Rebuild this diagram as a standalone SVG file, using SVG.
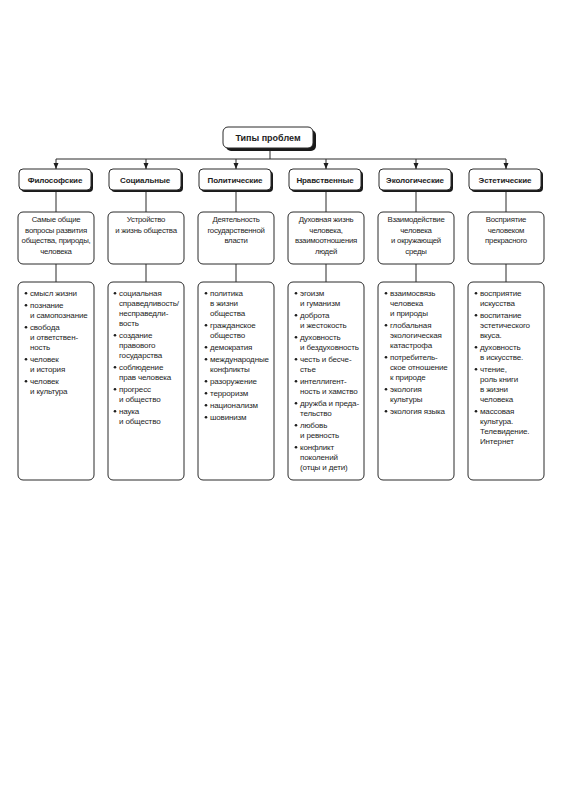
<svg xmlns="http://www.w3.org/2000/svg" width="564" height="800" viewBox="0 0 564 800">
<defs>
<style>
.bg{fill:#fff}
.box{fill:#fff;stroke:#2a2a2a;stroke-width:1}
.shadow{fill:#1a1a1a}
.ln{stroke:#2a2a2a;stroke-width:1;fill:none}
.t{font-family:"Liberation Sans","Arial",sans-serif;font-size:8px;fill:#1e1e1e;letter-spacing:-0.15px}
.d{font-size:7.8px;letter-spacing:-0.25px}
.c{text-anchor:middle}
.h{font-weight:bold;font-size:8px;letter-spacing:-0.1px}
.title{font-weight:bold;font-size:9px;letter-spacing:0}
.b{fill:#1e1e1e}
</style>
<marker id="arr" viewBox="0 0 6 6" refX="6" refY="3" markerWidth="6" markerHeight="6" orient="auto" markerUnits="userSpaceOnUse">
<path d="M0,0.5 L6,3 L0,5.5 Z" fill="#1e1e1e"/>
</marker>
</defs>
<rect class="bg" x="0" y="0" width="564" height="800"/>

<g id="connectors">
<path class="ln" d="M270,150 V159 M56,159 H506"/>
<path class="ln" d="M56,159 V169" marker-end="url(#arr)"/>
<path class="ln" d="M146,159 V169" marker-end="url(#arr)"/>
<path class="ln" d="M236,159 V169" marker-end="url(#arr)"/>
<path class="ln" d="M326,159 V169" marker-end="url(#arr)"/>
<path class="ln" d="M416,159 V169" marker-end="url(#arr)"/>
<path class="ln" d="M506,159 V169" marker-end="url(#arr)"/>
<path class="ln" d="M56,192 V212 M146,192 V212 M236,192 V212 M326,192 V212 M416,192 V212 M506,192 V212"/>
<path class="ln" d="M56,264 V282 M146,264 V282 M236,264 V282 M326,264 V282 M416,264 V282 M506,264 V282"/>
</g>

<g id="title">
<rect class="shadow" x="226" y="130" width="90" height="21" rx="5"/>
<rect class="box" x="223" y="127" width="90" height="21" rx="5"/>
<text class="t c title" x="268" y="141">Типы проблем</text>
</g>

<g id="h1"><rect class="shadow" x="21" y="171" width="72" height="21" rx="4"/><rect class="box" x="19" y="169" width="72" height="21" rx="4"/><text class="t c h" x="55" y="183">Философские</text></g>
<g id="h2"><rect class="shadow" x="111" y="171" width="72" height="21" rx="4"/><rect class="box" x="109" y="169" width="72" height="21" rx="4"/><text class="t c h" x="145" y="183">Социальные</text></g>
<g id="h3"><rect class="shadow" x="201" y="171" width="72" height="21" rx="4"/><rect class="box" x="199" y="169" width="72" height="21" rx="4"/><text class="t c h" x="235" y="183">Политические</text></g>
<g id="h4"><rect class="shadow" x="291" y="171" width="72" height="21" rx="4"/><rect class="box" x="289" y="169" width="72" height="21" rx="4"/><text class="t c h" x="325" y="183">Нравственные</text></g>
<g id="h5"><rect class="shadow" x="381" y="171" width="72" height="21" rx="4"/><rect class="box" x="379" y="169" width="72" height="21" rx="4"/><text class="t c h" x="415" y="183">Экологические</text></g>
<g id="h6"><rect class="shadow" x="471" y="171" width="72" height="21" rx="4"/><rect class="box" x="469" y="169" width="72" height="21" rx="4"/><text class="t c h" x="505" y="183">Эстетические</text></g>

<g id="d1"><rect class="box" x="18" y="212" width="76" height="52" rx="5"/>
<text class="t d c" x="56" y="222">Самые общие</text><text class="t d c" x="56" y="232.5">вопросы развития</text><text class="t d c" x="56" y="243">общества, природы,</text><text class="t d c" x="56" y="253.5">человека</text></g>
<g id="d2"><rect class="box" x="108" y="212" width="76" height="52" rx="5"/>
<text class="t d c" x="146" y="222">Устройство</text><text class="t d c" x="146" y="232.5">и жизнь общества</text></g>
<g id="d3"><rect class="box" x="198" y="212" width="76" height="52" rx="5"/>
<text class="t d c" x="236" y="222">Деятельность</text><text class="t d c" x="236" y="232.5">государственной</text><text class="t d c" x="236" y="243">власти</text></g>
<g id="d4"><rect class="box" x="288" y="212" width="76" height="52" rx="5"/>
<text class="t d c" x="326" y="222">Духовная жизнь</text><text class="t d c" x="326" y="232.5">человека,</text><text class="t d c" x="326" y="243">взаимоотношения</text><text class="t d c" x="326" y="253.5">людей</text></g>
<g id="d5"><rect class="box" x="378" y="212" width="76" height="52" rx="5"/>
<text class="t d c" x="416" y="222">Взаимодействие</text><text class="t d c" x="416" y="232.5">человека</text><text class="t d c" x="416" y="243">и окружающей</text><text class="t d c" x="416" y="253.5">среды</text></g>
<g id="d6"><rect class="box" x="468" y="212" width="76" height="52" rx="5"/>
<text class="t d c" x="506" y="222">Восприятие</text><text class="t d c" x="506" y="232.5">человеком</text><text class="t d c" x="506" y="243">прекрасного</text></g>

<g id="l1"><rect class="box" x="18" y="282" width="76" height="198" rx="5"/>
<circle class="b" cx="26" cy="293.2" r="1.3"/><text class="t" x="30" y="296">смысл жизни</text>
<circle class="b" cx="26" cy="305.2" r="1.3"/><text class="t" x="30" y="308">познание</text><text class="t" x="30" y="318">и самопознание</text>
<circle class="b" cx="26" cy="327.2" r="1.3"/><text class="t" x="30" y="330">свобода</text><text class="t" x="30" y="340">и ответствен-</text><text class="t" x="30" y="350">ность</text>
<circle class="b" cx="26" cy="359.2" r="1.3"/><text class="t" x="30" y="362">человек</text><text class="t" x="30" y="372">и история</text>
<circle class="b" cx="26" cy="381.2" r="1.3"/><text class="t" x="30" y="384">человек</text><text class="t" x="30" y="394">и культура</text>
</g>

<g id="l2"><rect class="box" x="108" y="282" width="76" height="198" rx="5"/>
<circle class="b" cx="115" cy="293.2" r="1.3"/><text class="t" x="119" y="296">социальная</text><text class="t" x="119" y="306">справедливость/</text><text class="t" x="119" y="316">несправедли-</text><text class="t" x="119" y="326">вость</text>
<circle class="b" cx="115" cy="335.2" r="1.3"/><text class="t" x="119" y="338">создание</text><text class="t" x="119" y="348">правового</text><text class="t" x="119" y="358">государства</text>
<circle class="b" cx="115" cy="367.2" r="1.3"/><text class="t" x="119" y="370">соблюдение</text><text class="t" x="119" y="380">прав человека</text>
<circle class="b" cx="115" cy="389.2" r="1.3"/><text class="t" x="119" y="392">прогресс</text><text class="t" x="119" y="402">и общество</text>
<circle class="b" cx="115" cy="411.2" r="1.3"/><text class="t" x="119" y="414">наука</text><text class="t" x="119" y="424">и общество</text>
</g>

<g id="l3"><rect class="box" x="198" y="282" width="76" height="198" rx="5"/>
<circle class="b" cx="206" cy="293.2" r="1.3"/><text class="t" x="210" y="296">политика</text><text class="t" x="210" y="306">в жизни</text><text class="t" x="210" y="316">общества</text>
<circle class="b" cx="206" cy="325.2" r="1.3"/><text class="t" x="210" y="328">гражданское</text><text class="t" x="210" y="338">общество</text>
<circle class="b" cx="206" cy="347.2" r="1.3"/><text class="t" x="210" y="350">демократия</text>
<circle class="b" cx="206" cy="359.2" r="1.3"/><text class="t" x="210" y="362">международные</text><text class="t" x="210" y="372">конфликты</text>
<circle class="b" cx="206" cy="381.2" r="1.3"/><text class="t" x="210" y="384">разоружение</text>
<circle class="b" cx="206" cy="393.2" r="1.3"/><text class="t" x="210" y="396">терроризм</text>
<circle class="b" cx="206" cy="405.2" r="1.3"/><text class="t" x="210" y="408">национализм</text>
<circle class="b" cx="206" cy="417.2" r="1.3"/><text class="t" x="210" y="420">шовинизм</text>
</g>

<g id="l4"><rect class="box" x="288" y="282" width="76" height="198" rx="5"/>
<circle class="b" cx="296" cy="293.2" r="1.3"/><text class="t" x="300" y="296">эгоизм</text><text class="t" x="300" y="306">и гуманизм</text>
<circle class="b" cx="296" cy="315.2" r="1.3"/><text class="t" x="300" y="318">доброта</text><text class="t" x="300" y="328">и жестокость</text>
<circle class="b" cx="296" cy="337.2" r="1.3"/><text class="t" x="300" y="340">духовность</text><text class="t" x="300" y="350">и бездуховность</text>
<circle class="b" cx="296" cy="359.2" r="1.3"/><text class="t" x="300" y="362">честь и бесче-</text><text class="t" x="300" y="372">стье</text>
<circle class="b" cx="296" cy="381.2" r="1.3"/><text class="t" x="300" y="384">интеллигент-</text><text class="t" x="300" y="394">ность и хамство</text>
<circle class="b" cx="296" cy="403.2" r="1.3"/><text class="t" x="300" y="406">дружба и преда-</text><text class="t" x="300" y="416">тельство</text>
<circle class="b" cx="296" cy="425.2" r="1.3"/><text class="t" x="300" y="428">любовь</text><text class="t" x="300" y="438">и ревность</text>
<circle class="b" cx="296" cy="447.2" r="1.3"/><text class="t" x="300" y="450">конфликт</text><text class="t" x="300" y="460">поколений</text><text class="t" x="300" y="470">(отцы и дети)</text>
</g>

<g id="l5"><rect class="box" x="378" y="282" width="76" height="198" rx="5"/>
<circle class="b" cx="386" cy="293.2" r="1.3"/><text class="t" x="390" y="296">взаимосвязь</text><text class="t" x="390" y="306">человека</text><text class="t" x="390" y="316">и природы</text>
<circle class="b" cx="386" cy="325.2" r="1.3"/><text class="t" x="390" y="328">глобальная</text><text class="t" x="390" y="338">экологическая</text><text class="t" x="390" y="348">катастрофа</text>
<circle class="b" cx="386" cy="357.2" r="1.3"/><text class="t" x="390" y="360">потребитель-</text><text class="t" x="390" y="370">ское отношение</text><text class="t" x="390" y="380">к природе</text>
<circle class="b" cx="386" cy="389.2" r="1.3"/><text class="t" x="390" y="392">экология</text><text class="t" x="390" y="402">культуры</text>
<circle class="b" cx="386" cy="411.2" r="1.3"/><text class="t" x="390" y="414">экология языка</text>
</g>

<g id="l6"><rect class="box" x="468" y="282" width="76" height="198" rx="5"/>
<circle class="b" cx="476" cy="293.2" r="1.3"/><text class="t" x="480" y="296">восприятие</text><text class="t" x="480" y="306">искусства</text>
<circle class="b" cx="476" cy="315.2" r="1.3"/><text class="t" x="480" y="318">воспитание</text><text class="t" x="480" y="328">эстетического</text><text class="t" x="480" y="338">вкуса.</text>
<circle class="b" cx="476" cy="347.2" r="1.3"/><text class="t" x="480" y="350">духовность</text><text class="t" x="480" y="360">в искусстве.</text>
<circle class="b" cx="476" cy="369.2" r="1.3"/><text class="t" x="480" y="372">чтение,</text><text class="t" x="480" y="382">роль книги</text><text class="t" x="480" y="392">в жизни</text><text class="t" x="480" y="402">человека</text>
<circle class="b" cx="476" cy="411.2" r="1.3"/><text class="t" x="480" y="414">массовая</text><text class="t" x="480" y="424">культура.</text><text class="t" x="480" y="434">Телевидение.</text><text class="t" x="480" y="444">Интернет</text>
</g>
</svg>
